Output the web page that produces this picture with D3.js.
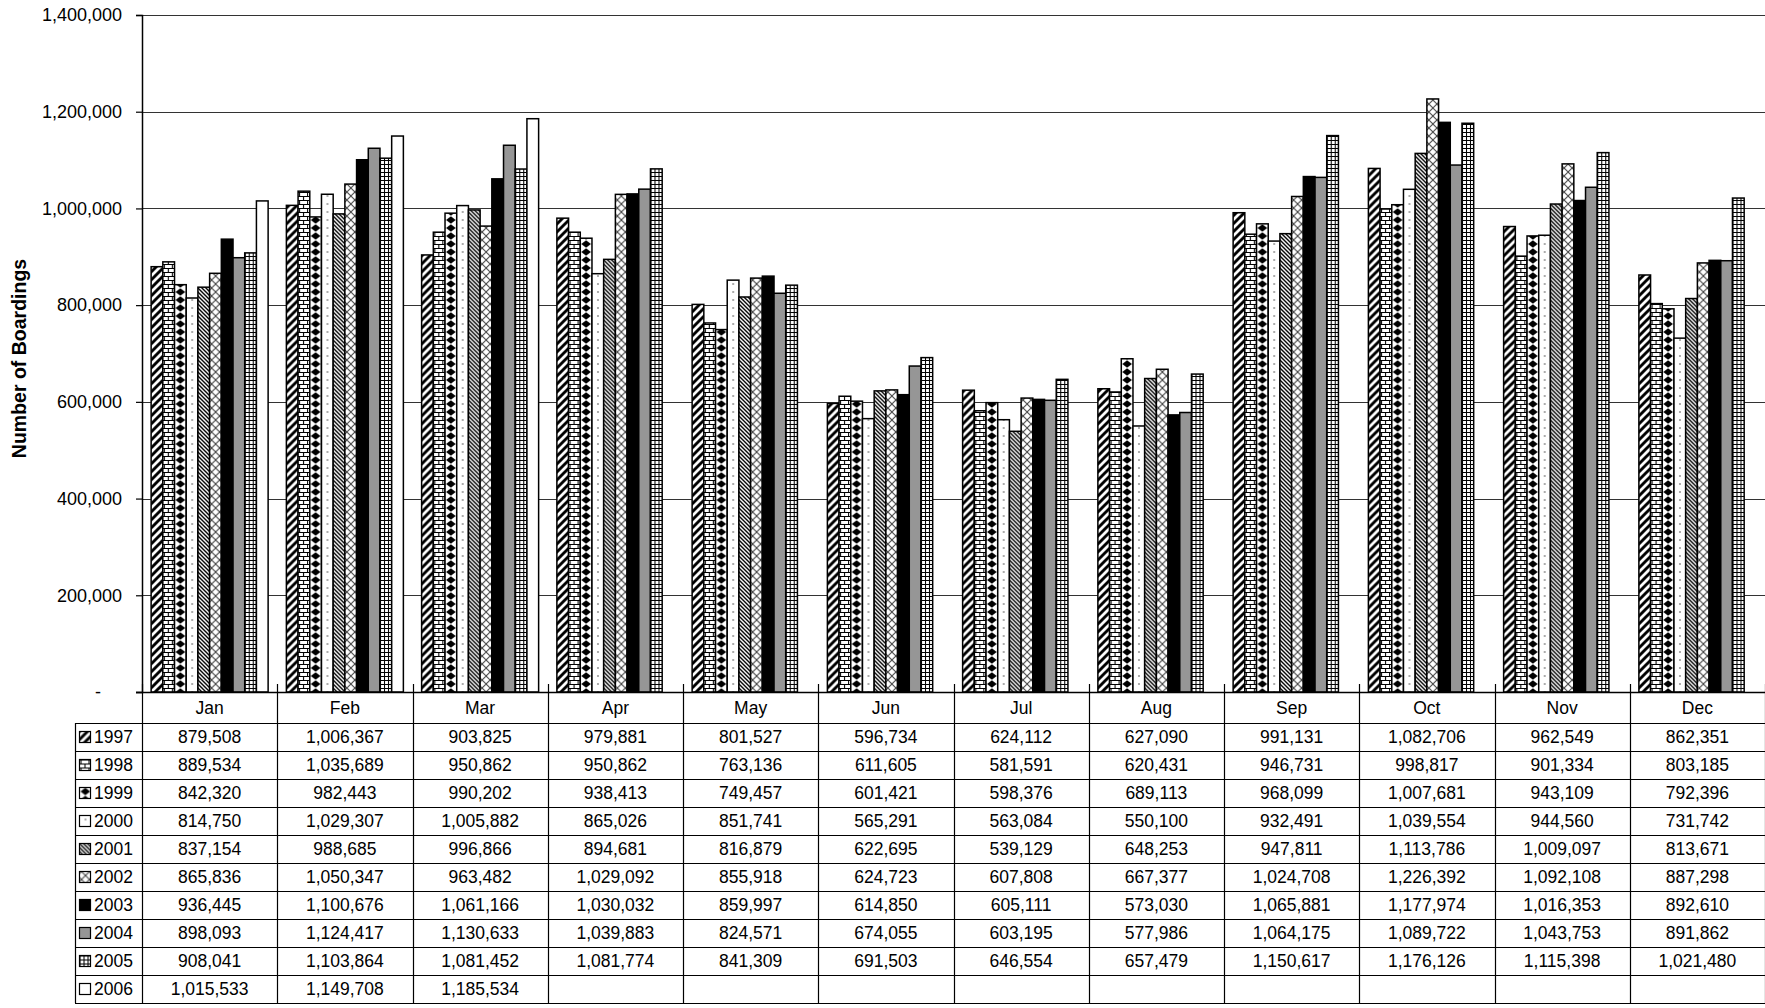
<!DOCTYPE html>
<html>
<head>
<meta charset="utf-8">
<script src="https://cdn.jsdelivr.net/npm/d3@7"></script>
<style>
  html, body { margin: 0; padding: 0; background: #fff; }
  svg { display: block; font-family: "Liberation Sans", Arial, sans-serif; }
</style>
</head>
<body>
<svg id="chart" width="1765" height="1008"></svg>
<script>
// Monthly boardings by year
const months = ["Jan", "Feb", "Mar", "Apr", "May", "Jun", "Jul", "Aug", "Sep", "Oct", "Nov", "Dec"];
const years = ["1997", "1998", "1999", "2000", "2001", "2002", "2003", "2004", "2005", "2006"];

const boardings1997 = [879508, 1006367, 903825, 979881, 801527, 596734, 624112, 627090, 991131, 1082706, 962549, 862351];
const boardings1998 = [889534, 1035689, 950862, 950862, 763136, 611605, 581591, 620431, 946731, 998817, 901334, 803185];
const boardings1999 = [842320, 982443, 990202, 938413, 749457, 601421, 598376, 689113, 968099, 1007681, 943109, 792396];
const boardings2000 = [814750, 1029307, 1005882, 865026, 851741, 565291, 563084, 550100, 932491, 1039554, 944560, 731742];
const boardings2001 = [837154, 988685, 996866, 894681, 816879, 622695, 539129, 648253, 947811, 1113786, 1009097, 813671];
const boardings2002 = [865836, 1050347, 963482, 1029092, 855918, 624723, 607808, 667377, 1024708, 1226392, 1092108, 887298];
const boardings2003 = [936445, 1100676, 1061166, 1030032, 859997, 614850, 605111, 573030, 1065881, 1177974, 1016353, 892610];
const boardings2004 = [898093, 1124417, 1130633, 1039883, 824571, 674055, 603195, 577986, 1064175, 1089722, 1043753, 891862];
const boardings2005 = [908041, 1103864, 1081452, 1081774, 841309, 691503, 646554, 657479, 1150617, 1176126, 1115398, 1021480];
const boardings2006 = [1015533, 1149708, 1185534, null, null, null, null, null, null, null, null, null];

const yTickValues = [0, 200000, 400000, 600000, 800000, 1000000, 1200000, 1400000];
const yLabel = "Number of Boardings";

const series = [boardings1997, boardings1998, boardings1999, boardings2000, boardings2001,
                boardings2002, boardings2003, boardings2004, boardings2005, boardings2006]
  .map((values, i) => ({ year: years[i], values }));

// Layout
const plotLeft = 142, plotRight = 1765, plotTop = 15, plotBottom = 692;
const headerH = 31, rowH = 28, tableLeft = 75;
const tableTop = plotBottom + headerH;
const tableBottom = tableTop + rowH * years.length;

const svg = d3.select("#chart");
const defs = svg.append("defs");

// Fill patterns, one per year. Bars are drawn in their own translated
// group, so every pattern starts at the bar's left edge.
function addPattern(id, w, h, draw, offsetX = 0) {
  const p = defs.append("pattern")
    .attr("id", id)
    .attr("patternUnits", "userSpaceOnUse")
    .attr("x", offsetX)
    .attr("width", w).attr("height", h);
  p.append("rect").attr("width", w).attr("height", h).attr("fill", "#fff");
  draw(p);
}
addPattern("p1997", 8, 8, p => p.append("path")
  .attr("d", "M-2,2 L2,-2 M0,8 L8,0 M6,10 L10,6")
  .attr("stroke", "#000").attr("stroke-width", 2.9));
addPattern("p1998", 8, 8, p => p.append("path")
  .attr("d", "M0,0.5 H8 M0,4.5 H8 M0.5,0.5 V4.5 M4.5,4.5 V8")
  .attr("stroke", "#000").attr("stroke-width", 1.1).attr("fill", "none"), 1);
addPattern("p1999", 10, 8, p => p.append("polygon")
  .attr("points", "5,0.2 9.8,4 5,7.8 0.2,4").attr("fill", "#000"), 0.85);
addPattern("p2000", 8, 8, p => p.append("circle")
  .attr("cx", 4).attr("cy", 4).attr("r", 0.8).attr("fill", "#444"), 2);
addPattern("p2001", 4, 4, p => p.append("path")
  .attr("d", "M0,0 L4,4 M-1,3 L1,5 M3,-1 L5,1")
  .attr("stroke", "#000").attr("stroke-width", 1.4));
addPattern("p2002", 8, 8, p => p.append("path")
  .attr("d", "M0,0 L8,8 M8,0 L0,8")
  .attr("stroke", "#444").attr("stroke-width", 1.1), 2);
addPattern("p2005", 4, 4, p => p.append("path")
  .attr("d", "M0,0.5 H4 M0.5,0 V4")
  .attr("stroke", "#000").attr("stroke-width", 1.1).attr("fill", "none"));

const fills = {
  "1997": "url(#p1997)", "1998": "url(#p1998)", "1999": "url(#p1999)",
  "2000": "url(#p2000)", "2001": "url(#p2001)", "2002": "url(#p2002)",
  "2003": "#000", "2004": "#969696", "2005": "url(#p2005)", "2006": "#fff"
};

// Scales
const x0 = d3.scaleBand().domain(months).range([plotLeft, plotRight]).paddingInner(0).paddingOuter(0);
const x1 = d3.scaleBand().domain(years).range([0, x0.bandwidth()]).paddingInner(0).paddingOuter(0.78);
const y = d3.scaleLinear().domain([0, 1400000]).range([plotBottom, plotTop]);

// Horizontal gridlines
svg.append("g")
  .selectAll("line")
  .data(yTickValues.filter(d => d > 0))
  .join("line")
  .attr("x1", plotLeft).attr("x2", plotRight)
  .attr("y1", d => Math.round(y(d)) + 0.5).attr("y2", d => Math.round(y(d)) + 0.5)
  .attr("stroke", "#333").attr("stroke-width", 1.2);

// Bars
const groups = svg.append("g")
  .selectAll("g")
  .data(series)
  .join("g")
  .attr("fill", d => fills[d.year]);

groups.selectAll("rect")
  .data(d => d.values.map((v, i) => ({ year: d.year, month: months[i], value: v })).filter(d => d.value != null))
  .join("rect")
  .attr("transform", d => `translate(${x0(d.month) + x1(d.year)},0)`)
  .attr("x", 0)
  .attr("width", x1.bandwidth())
  .attr("y", d => y(d.value))
  .attr("height", d => y(0) - y(d.value))
  .attr("stroke", "#000")
  .attr("stroke-width", 1.5);

// Y axis
const yAxis = svg.append("g")
  .attr("transform", `translate(${plotLeft},0)`)
  .call(d3.axisLeft(y)
    .tickValues(yTickValues)
    .tickSize(6)
    .tickPadding(14)
    .tickFormat(d => d === 0 ? "-" : d3.format(",")(d)));
yAxis.select(".domain").attr("stroke", "#000").attr("stroke-width", 1.5);
yAxis.selectAll(".tick line").attr("stroke", "#000").attr("stroke-width", 1.2);
yAxis.selectAll(".tick text")
  .attr("font-size", 18).attr("fill", "#000")
  .attr("font-family", "'Liberation Sans', Arial, sans-serif");
yAxis.selectAll(".tick text").filter(d => d === 0)
  .attr("x", -44).attr("text-anchor", "middle");

// Y axis title
svg.append("text")
  .attr("transform", `translate(26,${(plotTop + plotBottom) / 2 + 5}) rotate(-90)`)
  .attr("text-anchor", "middle")
  .attr("font-size", 19.5)
  .attr("font-weight", "bold")
  .text(yLabel);

// Data table
const table = svg.append("g");

// Month column separators (extend above the axis as category ticks)
table.selectAll("line.col")
  .data(d3.range(months.length + 1))
  .join("line")
  .attr("class", "col")
  .attr("x1", i => Math.round(plotLeft + i * x0.step()) + 0.5)
  .attr("x2", i => Math.round(plotLeft + i * x0.step()) + 0.5)
  .attr("y1", plotBottom - 8)
  .attr("y2", tableBottom)
  .attr("stroke", "#000").attr("stroke-width", 1.2);

// Row lines
table.selectAll("line.row")
  .data(d3.range(years.length + 1))
  .join("line")
  .attr("class", "row")
  .attr("x1", tableLeft).attr("x2", plotRight)
  .attr("y1", i => tableTop + i * rowH + 0.5)
  .attr("y2", i => tableTop + i * rowH + 0.5)
  .attr("stroke", "#000").attr("stroke-width", 1.2);

// Left border of the legend column
table.append("line")
  .attr("x1", tableLeft + 0.5).attr("x2", tableLeft + 0.5)
  .attr("y1", tableTop).attr("y2", tableBottom)
  .attr("stroke", "#000").attr("stroke-width", 1.2);

// Axis baseline across the full width
table.append("line")
  .attr("x1", plotLeft - 6).attr("x2", plotRight)
  .attr("y1", plotBottom + 0.5).attr("y2", plotBottom + 0.5)
  .attr("stroke", "#000").attr("stroke-width", 1.5);

// Month headers
table.selectAll("text.month")
  .data(months)
  .join("text")
  .attr("class", "month")
  .attr("x", d => x0(d) + x0.bandwidth() / 2)
  .attr("y", plotBottom + headerH / 2 + 6)
  .attr("text-anchor", "middle")
  .attr("font-size", 17.5)
  .text(d => d);

// Legend keys and year labels
const legendRows = table.selectAll("g.legend")
  .data(series)
  .join("g")
  .attr("class", "legend")
  .attr("transform", (d, i) => `translate(0,${tableTop + i * rowH})`);

legendRows.append("rect")
  .attr("transform", `translate(79.5,${rowH / 2 - 5.5})`)
  .attr("width", 11).attr("height", 11)
  .attr("fill", d => fills[d.year])
  .attr("stroke", "#000").attr("stroke-width", 1.2);

legendRows.append("text")
  .attr("x", 94).attr("y", rowH / 2 + 6)
  .attr("font-size", 17.5)
  .text(d => d.year);

// Cell values
legendRows.selectAll("text.val")
  .data(d => d.values.map((v, i) => ({ month: months[i], value: v })).filter(d => d.value != null))
  .join("text")
  .attr("class", "val")
  .attr("x", d => x0(d.month) + x0.bandwidth() / 2)
  .attr("y", rowH / 2 + 6)
  .attr("text-anchor", "middle")
  .attr("font-size", 17.5)
  .text(d => d3.format(",")(d.value));
</script>
</body>
</html>
